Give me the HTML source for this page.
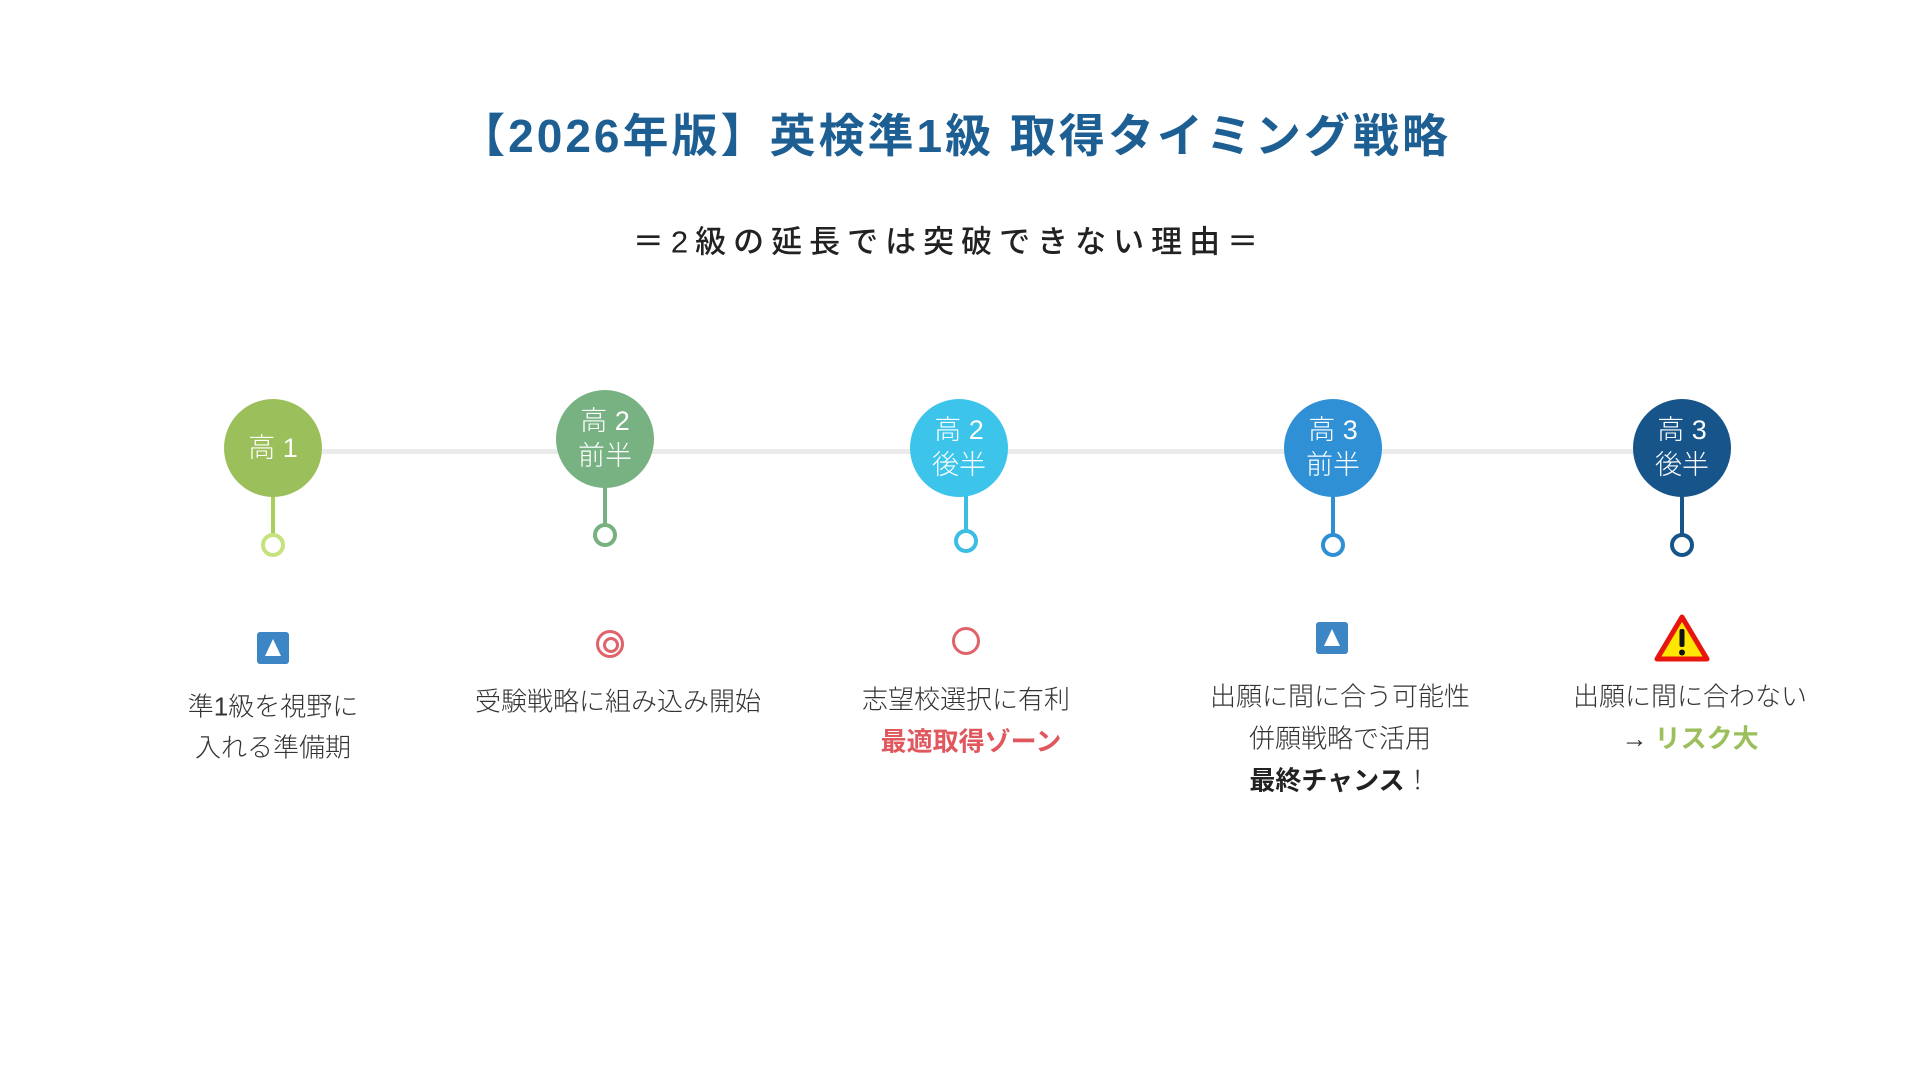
<!DOCTYPE html>
<html><head><meta charset="utf-8"><style>
body{margin:0;width:1920px;height:1080px;background:#fff;position:relative;overflow:hidden;font-family:"Liberation Sans","Noto Sans CJK JP",sans-serif;}
.a{position:absolute;transform:translate(-50%,-50%);white-space:nowrap;}
.t{font-size:26px;color:#333;font-weight:300;}
.b{font-family:"Noto Sans CJK JP",sans-serif;font-weight:700;}
.c{position:absolute;width:98px;height:98px;border-radius:50%;color:#fff;font-size:27px;line-height:35px;display:flex;align-items:center;justify-content:center;text-align:center;transform:translate(-50%,-50%);font-weight:300;}
.stem{position:absolute;width:4px;transform:translateX(-50%);}
.sc{position:absolute;width:16px;height:16px;border:4px solid;border-radius:50%;background:#fff;transform:translate(-50%,-50%);}
.tri{position:absolute;width:32px;height:32px;background:#3d86c6;border-radius:3px;transform:translate(-50%,-50%);}
.tri:after{content:"";position:absolute;left:8px;top:7px;border-left:8px solid transparent;border-right:8px solid transparent;border-bottom:17px solid #fff;}
</style></head><body>
<div class="a" style="left:955px;top:133px;font-size:46px;font-weight:bold;color:#1d5f93;letter-spacing:3px;">【2026年版】英検準1級 取得タイミング戦略</div>
<div class="a" style="left:949px;top:239px;font-size:31px;font-weight:500;color:#222;letter-spacing:7px;">＝2級の延長では突破できない理由＝</div>
<div style="position:absolute;left:322px;top:449px;width:1320px;height:5px;background:#ebebeb;"></div>

<div class="stem" style="left:273px;top:490px;height:45px;background:#a7cf5a"></div>
<div class="sc" style="left:273px;top:545px;border-color:#c6e27c"></div>
<div class="c" style="left:273px;top:448px;background:#9bc05b">高 1</div>

<div class="stem" style="left:605px;top:480px;height:45px;background:#76b17f"></div>
<div class="sc" style="left:605px;top:535px;border-color:#76b17f"></div>
<div class="c" style="left:605px;top:439px;background:#78b282">高 2<br>前半</div>

<div class="stem" style="left:966px;top:490px;height:42px;background:#3bbde4"></div>
<div class="sc" style="left:966px;top:541px;border-color:#3bbde4"></div>
<div class="c" style="left:959px;top:448px;background:#3cc4eb">高 2<br>後半</div>

<div class="stem" style="left:1333px;top:490px;height:45px;background:#2e8fd4"></div>
<div class="sc" style="left:1333px;top:545px;border-color:#2e8fd4"></div>
<div class="c" style="left:1333px;top:448px;background:#2f90d5">高 3<br>前半</div>

<div class="stem" style="left:1682px;top:490px;height:45px;background:#16548a"></div>
<div class="sc" style="left:1682px;top:545px;border-color:#16548a"></div>
<div class="c" style="left:1682px;top:448px;background:#16548a">高 3<br>後半</div>

<div class="tri" style="left:273px;top:648px"></div>
<div class="a" style="left:610px;top:644px;width:22px;height:22px;border:3px solid #e0636b;border-radius:50%;"><div style="position:absolute;left:4px;top:4px;width:10px;height:10px;border:3px solid #e0636b;border-radius:50%"></div></div>
<div class="a" style="left:966px;top:641px;width:22px;height:22px;border:3px solid #e0636b;border-radius:50%;"></div>
<div class="tri" style="left:1332px;top:638px"></div>
<svg class="a" style="left:1682px;top:638px" width="56" height="48" viewBox="0 0 56 48"><polygon points="28,3 53,45 3,45" fill="#ffe600" stroke="#e8140e" stroke-width="5" stroke-linejoin="round"/><rect x="25.5" y="15" width="5" height="18" rx="2" fill="#111"/><circle cx="28" cy="38.5" r="3" fill="#111"/></svg>

<div class="a t" style="left:273px;top:705px">準1級を視野に</div>
<div class="a t" style="left:273px;top:746px">入れる準備期</div>
<div class="a t" style="left:618px;top:700px">受験戦略に組み込み開始</div>
<div class="a t" style="left:966px;top:698px">志望校選択に有利</div>
<div class="a t b" style="left:971px;top:740px;color:#e0585e;">最適取得ゾーン</div>
<div class="a t" style="left:1340px;top:695px">出願に間に合う可能性</div>
<div class="a t" style="left:1340px;top:737px">併願戦略で活用</div>
<div class="a t" style="left:1340px;top:779px"><span class="b" style="color:#222">最終チャンス</span>！</div>
<div class="a t" style="left:1690px;top:695px">出願に間に合わない</div>
<div class="a t" style="left:1690px;top:737px">→ <span class="b" style="color:#9bc05b">リスク大</span></div>
</body></html>
